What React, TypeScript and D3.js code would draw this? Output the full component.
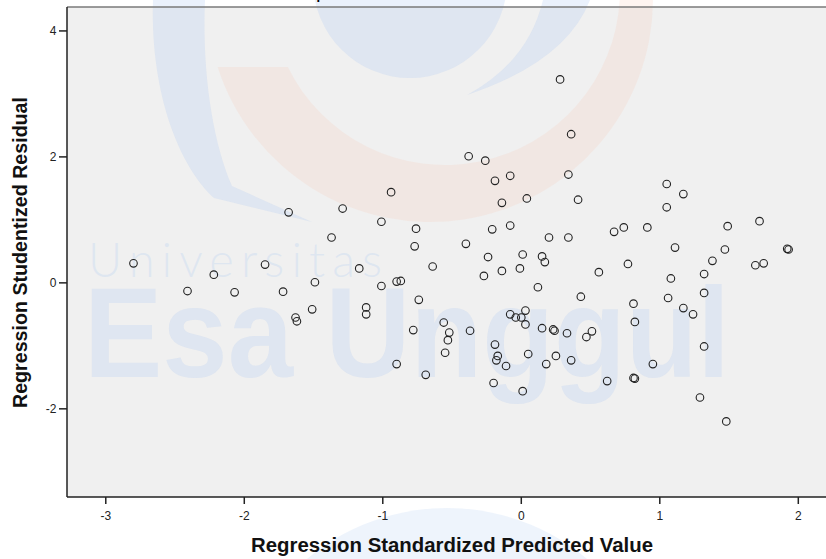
import React from "react";
import * as d3 from "d3";

const predicted = [
  -2.80, -2.41, -2.22, -2.07, -1.85, -1.72, -1.68, -1.49, -1.51, -1.63,
  -1.62, -1.37, -1.29, -1.17, -1.12, -1.12, -1.01, -1.01, -0.94, -0.90,
  -0.87, -0.90, -0.78, -0.76, -0.77, -0.74, -0.69, -0.64, -0.56, -0.52,
  -0.53, -0.55, -0.40, -0.38, -0.37, -0.27, -0.26, -0.24, -0.21, -0.19,
  -0.19, -0.17, -0.18, -0.11, -0.20, -0.14, -0.14, -0.08, -0.08, -0.08,
  -0.04, 0.00, -0.01, 0.01, 0.01, 0.03, 0.03, 0.04, 0.05, 0.12,
  0.15, 0.15, 0.17, 0.18, 0.20, 0.23, 0.24, 0.25, 0.28, 0.33,
  0.34, 0.34, 0.36, 0.36, 0.41, 0.43, 0.47, 0.51, 0.56, 0.62,
  0.67, 0.74, 0.77, 0.81, 0.82, 0.81, 0.82, 0.91, 0.95, 1.05,
  1.05, 1.06, 1.08, 1.11, 1.17, 1.17, 1.24, 1.29, 1.32, 1.32,
  1.32, 1.38, 1.47, 1.48, 1.49, 1.69, 1.72, 1.75, 1.92, 1.93,
];

const residual = [
  0.31, -0.13, 0.13, -0.15, 0.29, -0.14, 1.12, 0.01, -0.42, -0.55,
  -0.61, 0.72, 1.18, 0.23, -0.39, -0.50, 0.97, -0.05, 1.44, 0.02,
  0.03, -1.29, -0.75, 0.86, 0.58, -0.27, -1.46, 0.26, -0.63, -0.79,
  -0.91, -1.11, 0.62, 2.01, -0.76, 0.11, 1.94, 0.41, 0.85, 1.62,
  -0.98, -1.16, -1.23, -1.32, -1.59, 1.27, 0.19, 0.91, 1.70, -0.50,
  -0.55, -0.55, 0.23, 0.45, -1.72, -0.44, -0.66, 1.34, -1.13, -0.07,
  -0.72, 0.42, 0.33, -1.29, 0.72, -0.74, -0.76, -1.16, 3.23, -0.80,
  1.72, 0.72, -1.23, 2.36, 1.32, -0.22, -0.86, -0.77, 0.17, -1.56,
  0.81, 0.88, 0.30, -0.33, -0.62, -1.51, -1.52, 0.88, -1.29, 1.57,
  1.20, -0.24, 0.07, 0.56, 1.41, -0.40, -0.50, -1.82, 0.14, -0.16,
  -1.01, 0.35, 0.53, -2.20, 0.90, 0.28, 0.98, 0.31, 0.54, 0.53,
];

const xTicks = [-3, -2, -1, 0, 1, 2];
const yTicks = [-2, 0, 2, 4];
const xTitle = "Regression Standardized Predicted Value";
const yTitle = "Regression Studentized Residual";
const chartTitle = "Dependent Variable: Motivasi";

const W = 826;
const H = 559;
const plotLeft = 67;
const plotRight = 826;
const plotTop = 7;
const plotBottom = 497;

export default function App() {
  const x = d3.scaleLinear().domain([-3.28, 2.2]).range([plotLeft, plotRight]);
  const y = d3.scaleLinear().domain([-3.4, 4.38]).range([plotBottom, plotTop]);

  const blue = "rgba(170,200,242,0.25)";
  const blueLight = "rgba(170,200,242,0.2)";
  const peach = "rgba(250,196,170,0.18)";

  // peach ring segment
  const oC = { cx: 430, cy: -1, r: 223 };
  const iC = { cx: 445, cy: -10, r: 175 };
  const oLeftY = 67;
  const oLeftX = oC.cx - Math.sqrt(oC.r * oC.r - (oLeftY - oC.cy) ** 2);
  const oRightX = oC.cx + Math.sqrt(oC.r * oC.r - (0 - oC.cy) ** 2);
  const iLeftX = iC.cx - Math.sqrt(iC.r * iC.r - (oLeftY - iC.cy) ** 2);
  const iRightX = iC.cx + Math.sqrt(iC.r * iC.r - (0 - iC.cy) ** 2);
  const peachPath = `M ${oLeftX} ${oLeftY} A ${oC.r} ${oC.r} 0 0 0 ${oRightX} 0 L ${iRightX} 0 A ${iC.r} ${iC.r} 0 0 1 ${iLeftX} ${oLeftY} Z`;

  const points = predicted.map((p, i) => ({ p, r: residual[i] }));

  return (
    <svg
      width={W}
      height={H}
      style={{ position: "absolute", left: 0, top: 0, display: "block" }}
      fontFamily="'Liberation Sans', Arial, sans-serif"
    >
      <rect x={0} y={0} width={W} height={H} fill="#ffffff" />
      <rect
        x={plotLeft}
        y={plotTop}
        width={plotRight - plotLeft}
        height={plotBottom - plotTop}
        fill="#f0f0f0"
      />

      {/* watermark */}
      <g>
        <circle cx={410} cy={-19} r={97} fill={blue} />
        <path d="M 543 0 Q 528 62 467 95 Q 566 62 590 0 Z" fill={blue} />
        <path
          d="M 153 0 C 150 90, 178 165, 214 198 L 312 222 L 232 186 C 212 140, 202 70, 205 0 Z"
          fill={blue}
        />
        <path d={peachPath} fill={peach} />
        <circle cx={447} cy={726} r={218} fill={blueLight} />
        <text
          x={88}
          y={277}
          fontSize={47}
          fontWeight={300}
          fontFamily="Lato, 'Open Sans', sans-serif"
          fill={blue}
          textLength={294}
          lengthAdjust="spacing"
        >
          Universitas
        </text>
        <text
          x={84}
          y={377}
          fontSize={128}
          fontWeight={700}
          fill={blue}
          textLength={646}
          lengthAdjust="spacingAndGlyphs"
        >
          Esa Unggul
        </text>
      </g>

      {/* title (cut off at top) */}
      <text x={300} y={-1.5} fontSize={13} fontWeight={700} fill="#000">
        {chartTitle}
      </text>

      {/* frame */}
      <line x1={plotLeft} x2={plotRight} y1={plotTop} y2={plotTop} stroke="#7a7a7a" strokeWidth={1.5} />
      <line x1={plotLeft} x2={plotLeft} y1={plotTop} y2={plotBottom} stroke="#222" strokeWidth={1.5} />
      <line x1={plotLeft} x2={plotRight} y1={plotBottom} y2={plotBottom} stroke="#222" strokeWidth={1.5} />

      {/* x ticks */}
      {xTicks.map((t) => (
        <g key={"x" + t}>
          <line x1={x(t)} x2={x(t)} y1={plotBottom} y2={plotBottom + 7} stroke="#222" strokeWidth={1.5} />
          <text x={x(t)} y={519.5} fontSize={12} textAnchor="middle" fill="#222">
            {t}
          </text>
        </g>
      ))}

      {/* y ticks */}
      {yTicks.map((t) => (
        <g key={"y" + t}>
          <line x1={plotLeft - 8} x2={plotLeft} y1={y(t)} y2={y(t)} stroke="#222" strokeWidth={1.5} />
          <text x={56.5} y={y(t) + 4.3} fontSize={12} textAnchor="end" fill="#222">
            {t}
          </text>
        </g>
      ))}

      {/* points */}
      {points.map((d, i) => (
        <circle
          key={i}
          cx={x(d.p)}
          cy={y(d.r)}
          r={3.8}
          fill="none"
          stroke="#222"
          strokeWidth={1.1}
        />
      ))}

      {/* axis titles */}
      <text
        x={452}
        y={552}
        fontSize={20}
        fontWeight={700}
        textAnchor="middle"
        fill="#111"
        textLength={402}
        lengthAdjust="spacingAndGlyphs"
      >
        {xTitle}
      </text>
      <text
        transform={`translate(27, ${252.5}) rotate(-90)`}
        fontSize={20}
        fontWeight={700}
        textAnchor="middle"
        fill="#111"
        textLength={311}
        lengthAdjust="spacingAndGlyphs"
      >
        {yTitle}
      </text>
    </svg>
  );
}
